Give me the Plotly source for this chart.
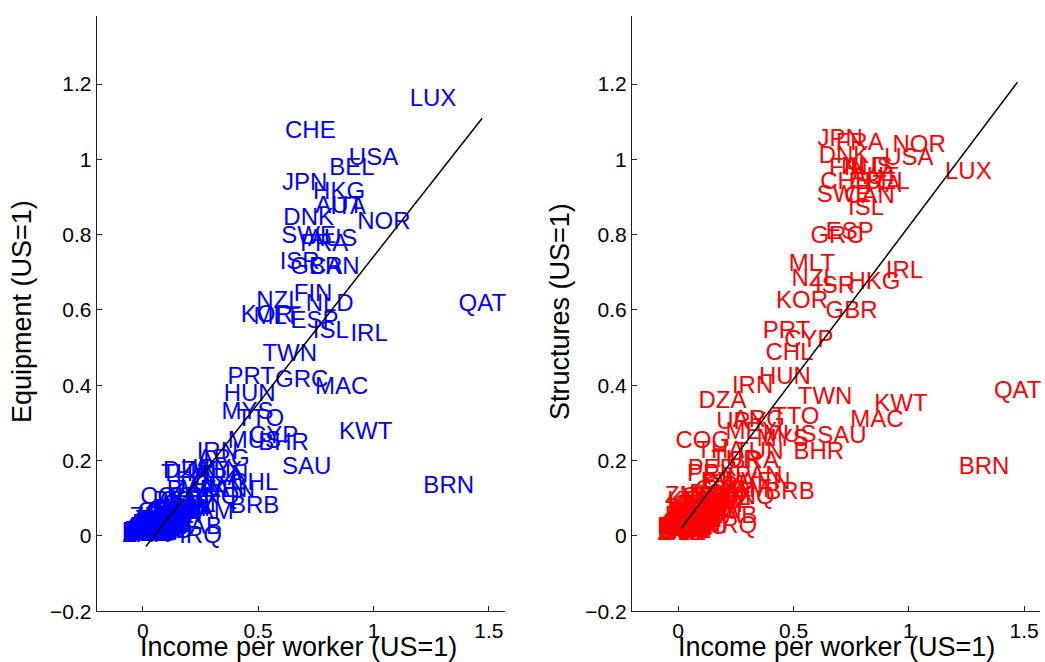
import plotly.graph_objects as go

countries = ["LUX","QAT","BRN","USA","CHE","BEL","JPN","HKG","AUT","ITA","DNK","NOR","SWE","FRA","AUS",
             "ISR","GBR","CAN","FIN","NZL","NLD","KOR","MLT","ESP","ISL","IRL","GRC","TWN","PRT","MAC",
             "HUN","MYS","TTO","KWT","CYP","MUS","BHR","SAU","IRN","ARG","THA","MEX","URY","CHL","BRB",
             "DZA","COG","PER","PRY","TUN","BRA","PAN","VEN","TUR","GAB","IRQ","ZMB","KEN","JAM","COL",
             "CRI","ECU","DOM","FJI","NAM","BWA","ZAF","SWZ","GTM","SLV","SYR","MAR","EGY","LKA","PHL",
             "IDN","CHN","CPV","BOL","HND","NIC","MNG","LSO","YEM","PAK","IND","VNM","MRT","CMR","CIV",
             "GHA","NGA","SEN","HTI","LAO","BGD","KHM","ZWE","GMB","BEN","NPL","GNB","CAF","TGO","MDG",
             "BFA","MLI","SLE","TCD","MOZ","UGA","RWA","NER","ZAR","TZA","MWI","ETH","BDI","AGO","GIN",
             "COM","GNQ","KGZ"]
income = [1.258,1.472,1.326,1.000,0.726,0.906,0.702,0.851,0.852,0.890,0.719,1.045,0.719,0.787,0.823,
          0.680,0.752,0.830,0.738,0.590,0.810,0.537,0.580,0.744,0.815,0.981,0.689,0.637,0.470,0.862,
          0.463,0.454,0.510,0.966,0.567,0.484,0.610,0.710,0.323,0.350,0.183,0.318,0.274,0.483,0.485,
          0.192,0.107,0.149,0.145,0.350,0.330,0.350,0.380,0.250,0.233,0.250,0.052,0.060,0.290,0.180,
          0.200,0.160,0.170,0.170,0.200,0.220,0.220,0.200,0.160,0.150,0.150,0.140,0.130,0.120,0.120,
          0.110,0.090,0.120,0.100,0.100,0.090,0.090,0.060,0.080,0.080,0.070,0.065,0.070,0.080,0.070,
          0.060,0.065,0.065,0.060,0.060,0.055,0.050,0.080,0.050,0.045,0.040,0.036,0.040,0.038,0.032,
          0.033,0.035,0.024,0.030,0.028,0.030,0.027,0.025,0.015,0.022,0.020,0.018,0.013,0.100,0.050,
          0.050,0.300,0.070]
equipment = [1.157,0.613,0.130,1.000,1.072,0.974,0.934,0.910,0.873,0.872,0.842,0.831,0.794,0.772,0.786,
             0.725,0.711,0.711,0.640,0.621,0.613,0.584,0.579,0.568,0.542,0.534,0.411,0.480,0.419,0.393,
             0.374,0.327,0.308,0.273,0.263,0.250,0.244,0.180,0.220,0.202,0.162,0.170,0.175,0.138,0.077,
             0.170,0.101,0.090,0.060,0.160,0.150,0.120,0.120,0.130,0.021,-0.003,0.048,0.030,0.060,0.090,
             0.100,0.070,0.070,0.060,0.080,0.120,0.120,0.080,0.070,0.060,0.050,0.060,0.050,0.060,0.050,
             0.050,0.060,0.060,0.040,0.040,0.030,0.030,0.030,0.020,0.035,0.030,0.020,0.030,0.030,0.020,
             0.020,0.015,0.025,0.010,0.010,0.020,0.010,0.040,0.020,0.012,0.012,0.006,0.004,0.010,0.003,
             0.010,0.008,0.002,0.003,0.004,0.006,0.008,0.005,0.001,0.003,0.006,0.004,0.002,0.010,0.010,
             0.010,0.100,0.020]
structures = [0.964,0.383,0.180,1.000,0.937,0.937,1.051,0.672,0.950,0.930,1.006,1.035,0.903,1.041,0.977,
              0.661,0.595,0.900,0.974,0.680,0.977,0.621,0.719,0.804,0.868,0.701,0.794,0.366,0.542,0.305,
              0.419,0.255,0.313,0.348,0.518,0.265,0.220,0.263,0.396,0.305,0.223,0.273,0.300,0.483,0.114,
              0.356,0.250,0.175,0.162,0.220,0.196,0.157,0.140,0.200,0.050,0.024,0.104,0.090,0.120,0.120,
              0.130,0.100,0.110,0.140,0.100,0.140,0.080,0.090,0.060,0.070,0.070,0.090,0.080,0.090,0.070,
              0.090,0.080,0.100,0.080,0.070,0.060,0.060,0.080,0.040,0.050,0.050,0.045,0.060,0.050,0.030,
              0.040,0.020,0.040,0.020,0.040,0.050,0.030,0.060,0.035,0.030,0.030,0.016,0.014,0.020,0.012,
              0.025,0.022,0.006,0.015,0.010,0.018,0.020,0.012,0.004,0.015,0.012,0.010,0.008,0.020,0.020,
              0.030,0.100,0.050]

fit_x = [0.013, 1.471]
fit_eq = [-0.028, 1.109]
fit_st = [0.020, 1.205]

x_ticks = [0, 0.5, 1, 1.5]
y_ticks = [-0.2, 0, 0.2, 0.4, 0.6, 0.8, 1.0, 1.2]

W, H = 1045, 662          # target picture size (layout fractions below are based on it)
FIG_H = 673               # figure height that the viewport shows
label_font = "Liberation Sans, Arial, sans-serif"
tick_font = "Liberation Sans Narrow, Liberation Sans, Arial, sans-serif"

fig = go.Figure()
fig.add_trace(go.Scatter(x=income, y=equipment, text=countries, mode="text",
                         textposition="middle center", cliponaxis=False,
                         textfont=dict(family=label_font, size=24, color="#0000FF"),
                         xaxis="x", yaxis="y", showlegend=False, hoverinfo="skip"))
fig.add_trace(go.Scatter(x=fit_x, y=fit_eq, mode="lines", line=dict(color="black", width=1.5),
                         xaxis="x", yaxis="y", showlegend=False, hoverinfo="skip"))
fig.add_trace(go.Scatter(x=income, y=structures, text=countries, mode="text",
                         textposition="middle center", cliponaxis=False,
                         textfont=dict(family=label_font, size=24, color="#FF0000"),
                         xaxis="x2", yaxis="y2", showlegend=False, hoverinfo="skip"))
fig.add_trace(go.Scatter(x=fit_x, y=fit_st, mode="lines", line=dict(color="black", width=1.5),
                         xaxis="x2", yaxis="y2", showlegend=False, hoverinfo="skip"))

x_dom_l = [96.7 / W, 505.0 / W]
x_dom_r = [632.0 / W, 1040.3 / W]
y_dom = [(H - 611.3) / H, (H - 16.2) / H]

ax_common = dict(showgrid=False, zeroline=False, showline=True, linecolor="#222222", linewidth=1,
                 ticks="inside", ticklen=5, tickcolor="#222222", tickwidth=1,
                 tickfont=dict(family=tick_font, size=21, color="black"))

fig.update_layout(
    width=W, height=FIG_H, margin=dict(l=0, r=0, t=0, b=0),
    paper_bgcolor="white", plot_bgcolor="white",
    xaxis=dict(domain=x_dom_l, range=[-0.2, 1.57], anchor="y", tickvals=x_ticks, **ax_common),
    yaxis=dict(domain=y_dom, range=[-0.2, 1.38], anchor="x", tickvals=y_ticks, **ax_common),
    xaxis2=dict(domain=x_dom_r, range=[-0.2, 1.57], anchor="y2", tickvals=x_ticks, **ax_common),
    yaxis2=dict(domain=y_dom, range=[-0.2, 1.38], anchor="x2", tickvals=y_ticks, **ax_common),
)

title_font = dict(family=tick_font, size=27, color="black")
fig.add_annotation(text="Income per worker (US=1)", xref="paper", yref="paper",
                   x=298 / W, y=(H - 647) / H, xanchor="center", yanchor="middle",
                   showarrow=False, font=title_font)
fig.add_annotation(text="Income per worker (US=1)", xref="paper", yref="paper",
                   x=836 / W, y=(H - 647) / H, xanchor="center", yanchor="middle",
                   showarrow=False, font=title_font)
fig.add_annotation(text="Equipment (US=1)", xref="paper", yref="paper",
                   x=22 / W, y=(H - 312) / H, xanchor="center", yanchor="middle",
                   textangle=-90, showarrow=False, font=title_font)
fig.add_annotation(text="Structures (US=1)", xref="paper", yref="paper",
                   x=560 / W, y=(H - 312) / H, xanchor="center", yanchor="middle",
                   textangle=-90, showarrow=False, font=title_font)

page_fix = ("var s=document.documentElement.style;s.margin='0';s.padding='0';s.overflow='hidden';"
            "var b=document.body.style;b.margin='0';b.padding='0';b.overflow='hidden';")
fig.write_html("out.html", config={"displayModeBar": False}, post_script=page_fix)
